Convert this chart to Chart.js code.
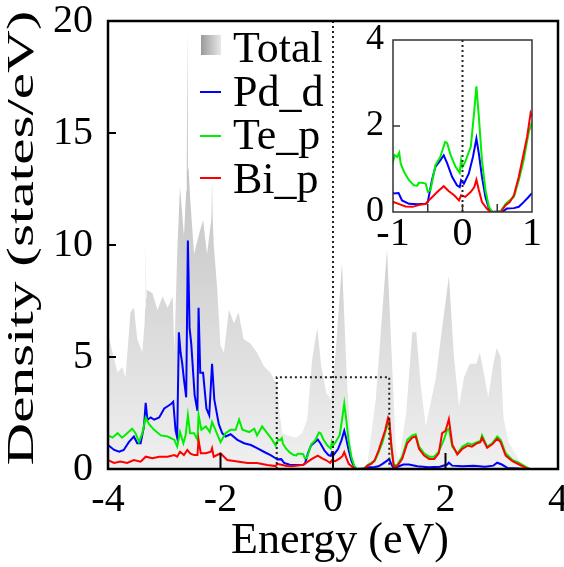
<!DOCTYPE html>
<html>
<head>
<meta charset="utf-8">
<script src="https://cdn.jsdelivr.net/npm/chart.js@4.4.0/dist/chart.umd.min.js"></script>
<style>
body{margin:0;background:#fff;}
#wrap{position:relative;width:564px;height:567px;}
#main{position:absolute;left:0;top:0;}
#inset{position:absolute;left:350px;top:20px;}
</style>
</head>
<body>
<div id="wrap">
<canvas id="main" width="564" height="567"></canvas>
<canvas id="inset" width="210" height="240"></canvas>
</div>
<script>
// energies (eV) and densities (states/eV)
const totalE = [-4.0,-3.98,-3.89,-3.83,-3.75,-3.69,-3.60,-3.54,-3.48,-3.39,-3.35,-3.34,-3.33,-3.32,-3.31,-3.21,-3.12,-3.03,-2.94,-2.85,-2.82,-2.77,-2.72,-2.65,-2.61,-2.60,-2.59,-2.58,-2.57,-2.54,-2.47,-2.38,-2.31,-2.24,-2.17,-2.16,-2.15,-2.14,-2.12,-2.06,-2.00,-1.94,-1.85,-1.76,-1.68,-1.59,-1.47,-1.35,-1.23,-1.11,-1.05,-0.99,-0.95,-0.90,-0.80,-0.65,-0.55,-0.46,-0.37,-0.28,-0.21,-0.12,-0.04,0.05,0.16,0.25,0.34,0.42,0.60,0.64,0.76,0.87,0.96,1.05,1.12,1.17,1.30,1.41,1.48,1.56,1.65,1.83,1.93,2.06,2.15,2.24,2.33,2.43,2.55,2.61,2.65,2.76,2.85,2.91,2.98,3.03,3.12,3.24,3.38,3.50];
const totalDos = [5.9,5.85,4.9,4.3,4.55,4.1,7.0,7.2,5.8,5.2,6.5,7.2,10.2,7.6,8.0,7.85,7.1,7.7,7.2,7.7,5.2,9.6,12.6,10.4,12.4,13.0,19.5,13.3,13.5,12.1,9.6,10.5,11.1,9.6,11.0,11.3,12.9,11.2,10.0,8.1,5.5,5.2,7.1,6.5,7.0,5.8,5.6,5.2,4.6,4.3,4.0,3.8,2.5,1.6,1.5,1.4,1.6,2.2,4.9,6.3,4.6,3.4,3.1,5.3,9.2,3.8,0.5,0.05,0.05,0.8,3.1,6.8,9.8,4.7,0.8,0.3,2.5,6.1,6.1,3.7,1.9,4.1,6.1,8.6,5.0,2.8,4.1,4.7,4.7,5.2,4.7,3.2,4.7,5.4,5.0,2.3,1.2,0.7,0.1,0];

const pdE = [-4.0,-3.89,-3.80,-3.72,-3.63,-3.54,-3.48,-3.42,-3.36,-3.33,-3.30,-3.24,-3.18,-3.09,-3.0,-2.94,-2.88,-2.84,-2.80,-2.77,-2.74,-2.71,-2.68,-2.65,-2.61,-2.58,-2.55,-2.52,-2.46,-2.41,-2.39,-2.36,-2.31,-2.25,-2.20,-2.15,-2.11,-2.03,-1.97,-1.91,-1.82,-1.70,-1.58,-1.46,-1.35,-1.23,-1.11,-1.02,-0.99,-0.92,-0.87,-0.77,-0.65,-0.53,-0.50,-0.44,-0.39,-0.32,-0.27,-0.22,-0.15,-0.08,-0.04,-0.02,0.02,0.09,0.15,0.20,0.235,0.28,0.33,0.38,0.43,0.59,0.64,0.74,0.81,0.88,0.95,1.0,1.04,1.08,1.15,1.25,1.35,1.5,1.7,1.9,2.03,2.06,2.12,2.3,2.5,2.7,2.85,2.92,3.0,3.1,3.3,3.45];
const pdDos = [1.07,0.85,0.77,0.85,1.2,1.45,1.15,1.15,1.9,2.95,2.2,2.3,2.2,2.3,2.7,2.8,2.9,3.0,1.75,1.4,6.1,5.2,4.7,4.0,3.2,10.2,6.3,5.6,3.3,2.6,7.2,4.3,4.3,2.7,2.4,4.7,3.1,2.0,1.6,1.45,1.55,1.3,1.15,1.07,0.93,0.77,0.62,0.48,0.43,0.44,0.27,0.19,0.18,0.19,0.23,0.74,1.05,1.2,1.32,1.13,0.82,0.62,0.58,0.74,0.66,0.89,1.28,1.71,1.36,0.82,0.35,0.08,0,0.02,0.08,0.09,0.12,0.23,0.35,0.44,0.2,0.02,0.1,0.2,0.2,0.12,0.08,0.1,0.2,0.28,0.15,0.12,0.14,0.1,0.15,0.28,0.2,0.05,0.02,0];

const teE = [-4.0,-3.92,-3.83,-3.75,-3.66,-3.57,-3.51,-3.45,-3.39,-3.33,-3.27,-3.18,-3.06,-2.94,-2.82,-2.77,-2.72,-2.66,-2.62,-2.58,-2.54,-2.47,-2.41,-2.39,-2.34,-2.26,-2.19,-2.15,-2.09,-2.0,-1.91,-1.82,-1.73,-1.67,-1.61,-1.49,-1.40,-1.35,-1.26,-1.17,-1.08,-1.02,-0.974,-0.94,-0.91,-0.89,-0.84,-0.77,-0.70,-0.65,-0.63,-0.58,-0.53,-0.50,-0.46,-0.39,-0.32,-0.25,-0.22,-0.17,-0.10,-0.04,-0.02,0,0.04,0.12,0.17,0.20,0.235,0.28,0.33,0.38,0.43,0.55,0.62,0.68,0.74,0.81,0.88,0.95,1.0,1.04,1.08,1.14,1.23,1.32,1.41,1.47,1.53,1.62,1.71,1.80,1.88,1.97,2.03,2.06,2.12,2.21,2.30,2.40,2.47,2.56,2.62,2.65,2.74,2.83,2.92,2.98,3.07,3.19,3.31,3.43,3.5];
const teDos = [1.5,1.4,1.6,1.4,1.6,1.8,1.6,1.2,1.6,2.3,2.0,1.75,1.5,1.45,1.3,1.0,1.65,1.15,1.5,2.4,1.6,1.6,1.3,2.4,1.75,1.9,1.65,2.1,1.75,1.2,1.6,1.75,1.75,2.2,1.75,1.65,1.8,1.5,1.9,1.6,1.3,1.05,1.32,1.28,1.38,1.13,0.93,0.74,0.62,0.61,0.68,0.68,0.66,0.47,0.51,1.09,1.28,1.63,1.6,1.32,1.05,0.91,1.2,1.05,1.17,1.52,2.37,2.92,2.22,1.2,0.51,0.12,0,0.02,0.19,0.27,0.35,0.74,1.2,1.83,2.1,0.9,0.18,0.18,0.55,1.3,1.5,1.55,1.0,0.7,0.55,0.55,0.77,1.3,1.75,1.8,1.0,0.7,1.0,1.15,1.1,1.2,1.25,1.5,1.0,1.15,1.45,1.3,0.7,0.4,0.27,0.1,0];

const biE = [-4.0,-3.89,-3.78,-3.66,-3.54,-3.42,-3.33,-3.21,-3.09,-2.94,-2.82,-2.77,-2.72,-2.65,-2.59,-2.54,-2.47,-2.41,-2.39,-2.35,-2.26,-2.17,-2.15,-2.12,-2.0,-1.88,-1.70,-1.52,-1.35,-1.17,-1.02,-0.99,-0.92,-0.82,-0.72,-0.63,-0.53,-0.46,-0.36,-0.27,-0.20,-0.12,-0.05,-0.02,0.04,0.12,0.17,0.20,0.235,0.28,0.35,0.40,0.55,0.62,0.68,0.74,0.81,0.88,0.93,0.98,1.0,1.04,1.08,1.14,1.23,1.32,1.41,1.47,1.53,1.62,1.71,1.80,1.88,1.94,2.0,2.06,2.12,2.21,2.30,2.40,2.47,2.56,2.62,2.65,2.74,2.83,2.92,2.98,3.07,3.19,3.31,3.43,3.5];
const biDos = [0.4,0.27,0.33,0.27,0.4,0.33,0.55,0.48,0.55,0.55,0.62,0.55,0.77,0.62,0.85,0.7,0.62,0.62,1.3,0.7,0.7,0.77,0.93,0.55,0.7,0.4,0.33,0.27,0.27,0.18,0.13,0.23,0.19,0.13,0.12,0.16,0.19,0.31,0.47,0.6,0.49,0.39,0.27,0.39,0.35,0.47,0.58,0.75,0.51,0.23,0.08,0,0,0.16,0.23,0.39,0.82,1.36,1.75,2.3,2.22,1.0,0.1,0.12,0.45,1.15,1.4,1.45,0.9,0.6,0.45,0.45,0.7,1.6,1.7,2.23,1.1,0.65,0.9,1.05,1.0,1.15,1.2,1.4,0.95,1.1,1.35,1.2,0.6,0.35,0.2,0.05,0];

const seriesNames = ["Total", "Pd_d", "Te_p", "Bi_p"];
const seriesColors = ["#b4b4b4", "#0000ff", "#00ee00", "#ff0000"];

const mainXTicks = [-4, -2, 0, 2, 4];
const mainYTicks = [0, 5, 10, 15, 20];
const insetXTicks = [-1, 0, 1];
const insetYTicks = [0, 2, 4];
const zoomBox = {x0: -1, x1: 1, y0: 0, y1: 4.1};

const serif = "'Liberation Serif', 'Times New Roman', Times, serif";

function pts(xs, ys){
    return xs.map((x,i)=>({x:x, y:ys[i]}));
}

function totalFill(c){
    const a = c.chart.chartArea;
    if(!a) return "#dddddd";
    const g = c.chart.ctx.createLinearGradient(0, a.top, 0, a.bottom);
    g.addColorStop(0, "#adadad");
    g.addColorStop(1, "#f0f0f0");
    return g;
}

function lineSet(name, xs, ys, color, order){
    return {
        label:name, data:pts(xs, ys),
        borderColor:color, borderWidth:2,
        pointRadius:0, tension:0, fill:false, order:order
    };
}

function seg(ctx, x0, y0, x1, y1){
    ctx.beginPath();
    ctx.moveTo(x0, y0);
    ctx.lineTo(x1, y1);
    ctx.stroke();
}

// frame, inward ticks, dotted guides
const mainDecor = {
    id:"mainDecor",
    afterDatasetsDraw(chart){
        const {ctx, chartArea:a, scales:{x, y}} = chart;
        ctx.save();
        ctx.strokeStyle = "#222";
        ctx.lineWidth = 2;
        ctx.setLineDash([2,3]);
        seg(ctx, x.getPixelForValue(0), a.top, x.getPixelForValue(0), a.bottom);
        const bx0 = x.getPixelForValue(zoomBox.x0), bx1 = x.getPixelForValue(zoomBox.x1);
        const by0 = y.getPixelForValue(zoomBox.y0), by1 = y.getPixelForValue(zoomBox.y1);
        ctx.beginPath();
        ctx.moveTo(bx0, by0); ctx.lineTo(bx0, by1); ctx.lineTo(bx1, by1); ctx.lineTo(bx1, by0);
        ctx.stroke();
        ctx.setLineDash([]);
        ctx.strokeStyle = "#000";
        ctx.lineWidth = 2;
        [-2, 0, 2].forEach(v=>{
            const px = x.getPixelForValue(v);
            seg(ctx, px, a.bottom, px, a.bottom - 16);
        });
        [5, 10, 15].forEach(v=>{
            const py = y.getPixelForValue(v);
            seg(ctx, a.left, py, a.left + 8, py);
        });
        ctx.lineWidth = 2.5;
        ctx.strokeRect(a.left, a.top, a.right - a.left, a.bottom - a.top);
        ctx.restore();
    },
    afterDraw(chart){
        const ctx = chart.ctx;
        ctx.save();
        ctx.fillStyle = "#000";
        // axis titles
        ctx.font = "44px " + serif;
        ctx.textAlign = "center";
        ctx.textBaseline = "alphabetic";
        ctx.fillText("Energy (eV)", 340, 553);
        ctx.font = "37px " + serif;
        const t = "Density (states/eV)";
        const w = ctx.measureText(t).width;
        ctx.save();
        ctx.translate(33, 238);
        ctx.rotate(-Math.PI/2);
        ctx.scale(455 / w, 1);
        ctx.fillText(t, 0, 0);
        ctx.restore();
        // legend
        const g = ctx.createLinearGradient(201, 0, 221, 0);
        g.addColorStop(0, "#9a9a9a");
        g.addColorStop(1, "#e8e8e8");
        ctx.fillStyle = g;
        ctx.fillRect(201, 35, 20, 20);
        const lineY = [0, 92, 136, 178];
        const baseY = [62, 106, 149, 193];
        ctx.lineWidth = 2;
        for(let i = 1; i < 4; i++){
            ctx.strokeStyle = seriesColors[i];
            seg(ctx, 200, lineY[i], 221, lineY[i]);
        }
        ctx.fillStyle = "#000";
        ctx.font = "44px " + serif;
        ctx.textAlign = "left";
        for(let i = 0; i < 4; i++){
            ctx.fillText(seriesNames[i], 233, baseY[i]);
        }
        ctx.restore();
    }
};

const insetDecor = {
    id:"insetDecor",
    beforeDatasetsDraw(chart){
        const {ctx, chartArea:a} = chart;
        ctx.save();
        ctx.fillStyle = "#fff";
        ctx.fillRect(a.left, a.top, a.right - a.left, a.bottom - a.top);
        ctx.restore();
    },
    afterDatasetsDraw(chart){
        const {ctx, chartArea:a, scales:{x, y}} = chart;
        ctx.save();
        ctx.strokeStyle = "#222";
        ctx.lineWidth = 2;
        ctx.setLineDash([2,3]);
        seg(ctx, x.getPixelForValue(0), a.top, x.getPixelForValue(0), a.bottom);
        ctx.setLineDash([]);
        ctx.strokeStyle = "#333";
        ctx.lineWidth = 1.5;
        [-0.5, 0, 0.5].forEach(v=>{
            const px = x.getPixelForValue(v);
            seg(ctx, px, a.bottom, px, a.bottom - 8);
        });
        seg(ctx, a.left, y.getPixelForValue(2), a.left + 7, y.getPixelForValue(2));
        ctx.strokeRect(a.left, a.top, a.right - a.left, a.bottom - a.top);
        ctx.restore();
    }
};

function tickCb(list){
    return function(v){ return list.includes(v) ? String(v) : ""; };
}

new Chart(document.getElementById("main"), {
    type:"line",
    data:{
        datasets:[
            {label:seriesNames[0], data:pts(totalE, totalDos), borderWidth:0, pointRadius:0,
             tension:0, fill:"origin", backgroundColor:totalFill, order:3},
            lineSet(seriesNames[1], pdE, pdDos, seriesColors[1], 2),
            lineSet(seriesNames[2], teE, teDos, seriesColors[2], 1),
            lineSet(seriesNames[3], biE, biDos, seriesColors[3], 0)
        ]
    },
    options:{
        responsive:false, animation:false, devicePixelRatio:1,
        layout:{padding:{left:0, top:21, right:6, bottom:0}},
        plugins:{legend:{display:false}, tooltip:{enabled:false}},
        scales:{
            x:{type:"linear", min:-4, max:4,
               grid:{display:false, drawTicks:false}, border:{display:false},
               ticks:{stepSize:2, color:"#000", padding:11, maxRotation:0,
                      font:{family:serif, size:40, lineHeight:1}, callback:tickCb(mainXTicks)},
               afterFit(s){ s.height = 98; s.paddingLeft = 0; s.paddingRight = 0; }},
            y:{type:"linear", min:0, max:20,
               grid:{display:false, drawTicks:false}, border:{display:false},
               ticks:{stepSize:5, color:"#000", padding:15,
                      font:{family:serif, size:40, lineHeight:1}, callback:tickCb(mainYTicks)},
               afterFit(s){ s.width = 108; s.paddingTop = 0; s.paddingBottom = 0; }}
        }
    },
    plugins:[mainDecor]
});

new Chart(document.getElementById("inset"), {
    type:"line",
    data:{
        datasets:[
            lineSet(seriesNames[1], pdE, pdDos, seriesColors[1], 2),
            lineSet(seriesNames[2], teE, teDos, seriesColors[2], 1),
            lineSet(seriesNames[3], biE, biDos, seriesColors[3], 0)
        ]
    },
    options:{
        responsive:false, animation:false, devicePixelRatio:1,
        layout:{padding:{left:0, top:20, right:28, bottom:0}},
        plugins:{legend:{display:false}, tooltip:{enabled:false}},
        scales:{
            x:{type:"linear", min:-1, max:1,
               grid:{display:false, drawTicks:false}, border:{display:false},
               ticks:{stepSize:1, color:"#000", padding:2, maxRotation:0,
                      font:{family:serif, size:40, lineHeight:1}, callback:tickCb(insetXTicks)},
               afterFit(s){ s.height = 48; s.paddingLeft = 0; s.paddingRight = 0; }},
            y:{type:"linear", min:0, max:4,
               grid:{display:false, drawTicks:false}, border:{display:false},
               ticks:{stepSize:2, color:"#000", padding:9,
                      font:{family:serif, size:36, lineHeight:1}, callback:tickCb(insetYTicks)},
               afterFit(s){ s.width = 43; s.paddingTop = 0; s.paddingBottom = 0; }}
        }
    },
    plugins:[insetDecor]
});
</script>
</body>
</html>
